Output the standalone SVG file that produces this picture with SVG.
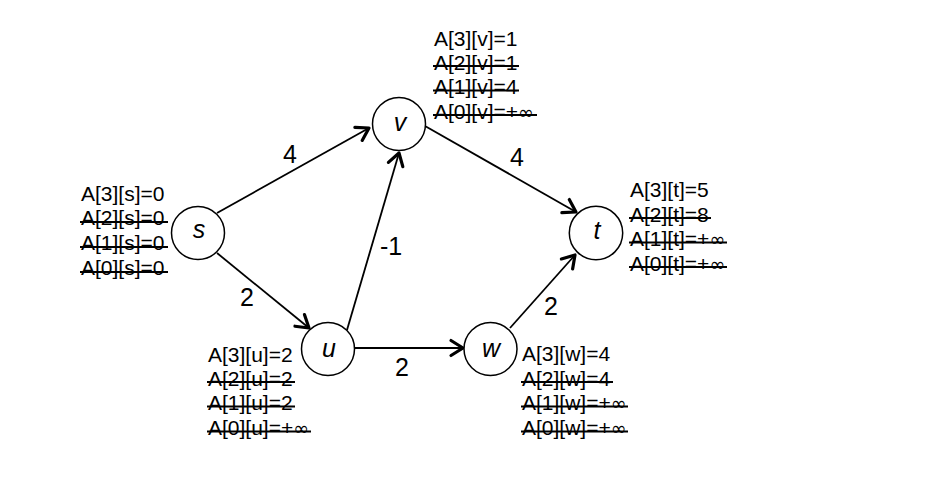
<svg xmlns="http://www.w3.org/2000/svg" width="941" height="499" viewBox="0 0 941 499">
<style>
.node circle{fill:#fff;stroke:#000;stroke-width:1.5}
.nl{font-family:"Liberation Sans",Arial,sans-serif;font-style:italic;font-size:25px;text-anchor:middle;fill:#000}
.lab{font-family:"Liberation Sans",Arial,sans-serif;font-size:21px;fill:#000}
.inf{font-family:"DejaVu Sans",sans-serif;font-size:19px}
.el{font-family:"Liberation Sans",Arial,sans-serif;font-size:25px;text-anchor:middle;fill:#000}
.edge{stroke:#000;stroke-width:1.8;fill:none;marker-end:url(#arr)}
.strike{stroke:#000;stroke-width:2}
</style>
<defs>
<marker id="arr" markerUnits="userSpaceOnUse" markerWidth="30" markerHeight="30" refX="0" refY="0" viewBox="-15 -15 30 30" orient="auto" overflow="visible">
<path d="M-12,-7.5 L0,0 L-12,7.5" fill="none" stroke="#000" stroke-width="3.2" stroke-linejoin="round" stroke-linecap="round"/>
</marker>
</defs>
<rect width="941" height="499" fill="#fff"/>
<g id="connectors">
<line class="edge" x1="217" y1="213" x2="369" y2="128"/>
<line class="edge" x1="217" y1="253" x2="309" y2="328"/>
<line class="edge" x1="347" y1="330" x2="399" y2="153"/>
<line class="edge" x1="425" y1="126" x2="576" y2="212"/>
<line class="edge" x1="355" y1="348" x2="463" y2="348"/>
<line class="edge" x1="510" y1="328" x2="575" y2="255"/>
<text class="el" x="290" y="163">4</text>
<text class="el" x="247" y="306">2</text>
<text class="el" x="391" y="255">-1</text>
<text class="el" x="517" y="166">4</text>
<text class="el" x="402" y="376">2</text>
<text class="el" x="551" y="315">2</text>
</g>
<g id="node-s" class="node">
<circle cx="198" cy="233" r="26.5"/>
<text class="nl" x="199" y="238">s</text>
<text class="lab" x="81" y="201">A[3][s]=0</text>
<text class="lab" x="81" y="225">A[2][s]=0</text>
<text class="lab" x="81" y="250">A[1][s]=0</text>
<text class="lab" x="81" y="275">A[0][s]=0</text>
<line class="strike" x1="80" y1="222" x2="168" y2="222"/>
<line class="strike" x1="80" y1="247" x2="168" y2="247"/>
<line class="strike" x1="80" y1="272" x2="168" y2="272"/>
</g>
<g id="node-v" class="node">
<circle cx="399" cy="124" r="26.5"/>
<text class="nl" x="400" y="131">v</text>
<text class="lab" x="434" y="45.5">A[3][v]=1</text>
<text class="lab" x="434" y="70">A[2][v]=1</text>
<text class="lab" x="434" y="94">A[1][v]=4</text>
<text class="lab" x="434" y="118.5">A[0][v]=+<tspan class="inf">∞</tspan></text>
<line class="strike" x1="433" y1="66" x2="519" y2="66"/>
<line class="strike" x1="433" y1="90.5" x2="519" y2="90.5"/>
<line class="strike" x1="433" y1="115" x2="537" y2="115"/>
</g>
<g id="node-u" class="node">
<circle cx="328" cy="349" r="26.5"/>
<text class="nl" x="329" y="357">u</text>
<text class="lab" x="208" y="361.5">A[3][u]=2</text>
<text class="lab" x="208" y="385.5">A[2][u]=2</text>
<text class="lab" x="208" y="410">A[1][u]=2</text>
<text class="lab" x="208" y="435">A[0][u]=+<tspan class="inf">∞</tspan></text>
<line class="strike" x1="207" y1="382" x2="295" y2="382"/>
<line class="strike" x1="207" y1="406.5" x2="295" y2="406.5"/>
<line class="strike" x1="207" y1="431.5" x2="311" y2="431.5"/>
</g>
<g id="node-w" class="node">
<circle cx="490.5" cy="349" r="26.5"/>
<text class="nl" x="491" y="357">w</text>
<text class="lab" x="522" y="361">A[3][w]=4</text>
<text class="lab" x="522" y="385.5">A[2][w]=4</text>
<text class="lab" x="522" y="410">A[1][w]=+<tspan class="inf">∞</tspan></text>
<text class="lab" x="522" y="435">A[0][w]=+<tspan class="inf">∞</tspan></text>
<line class="strike" x1="521" y1="382" x2="613" y2="382"/>
<line class="strike" x1="521" y1="406.5" x2="628" y2="406.5"/>
<line class="strike" x1="521" y1="431.5" x2="628" y2="431.5"/>
</g>
<g id="node-t" class="node">
<circle cx="596" cy="233" r="26.7"/>
<text class="nl" x="597" y="239">t</text>
<text class="lab" x="630" y="197">A[3][t]=5</text>
<text class="lab" x="630" y="221.5">A[2][t]=8</text>
<text class="lab" x="630" y="246">A[1][t]=+<tspan class="inf">∞</tspan></text>
<text class="lab" x="630" y="270.5">A[0][t]=+<tspan class="inf">∞</tspan></text>
<line class="strike" x1="629" y1="218" x2="711" y2="218"/>
<line class="strike" x1="629" y1="242.5" x2="727" y2="242.5"/>
<line class="strike" x1="629" y1="267" x2="727" y2="267"/>
</g>
</svg>
